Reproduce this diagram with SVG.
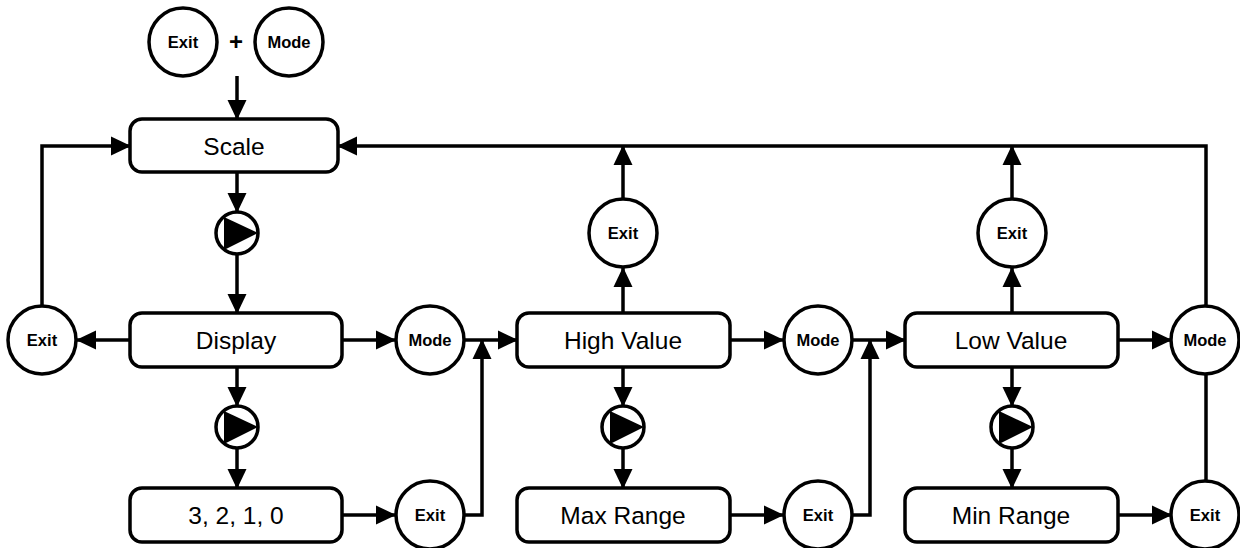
<svg xmlns="http://www.w3.org/2000/svg" width="1240" height="548" viewBox="0 0 1240 548">
<defs>
<marker id="ah" markerUnits="userSpaceOnUse" markerWidth="20" markerHeight="19" refX="19" refY="9.5" orient="auto" overflow="visible">
<path d="M0,0 L20,9.5 L0,19 z" fill="#000"/>
</marker>
<style>
.box{fill:#fff;stroke:#000;stroke-width:3.5}
.circ{fill:#fff;stroke:#000;stroke-width:3.5}
.bt{font-family:"Liberation Sans",Arial,sans-serif;font-size:24.5px;text-anchor:middle;fill:#000}
.ct{font-family:"Liberation Sans",Arial,sans-serif;font-size:16.5px;font-weight:bold;text-anchor:middle;fill:#000}
.ln{fill:none;stroke:#000;stroke-width:3.5}
.ar{fill:none;stroke:#000;stroke-width:3.5;marker-end:url(#ah)}
.tri{fill:#000}
</style>
</defs>
<rect width="1240" height="548" fill="#fff"/>
<g id="connectors">
<path class="ar" d="M237,76 V119"/>
<path class="ar" d="M237,172 V212"/>
<path class="ar" d="M237,254 V313"/>
<path class="ar" d="M130,340 H77"/>
<path class="ar" d="M42,306 V146 H130"/>
<path class="ar" d="M342,340 H395"/>
<path class="ar" d="M465,340 H517"/>
<path class="ar" d="M237,367 V406"/>
<path class="ar" d="M237,448 V488"/>
<path class="ar" d="M342,515 H395"/>
<path class="ar" d="M465,515 H482 V340"/>
<path class="ar" d="M623,313 V268"/>
<path class="ar" d="M623,198 V146"/>
<path class="ar" d="M730,340 H783"/>
<path class="ar" d="M853,340 H905"/>
<path class="ar" d="M623,367 V406"/>
<path class="ar" d="M623,448 V488"/>
<path class="ar" d="M730,515 H783"/>
<path class="ar" d="M853,515 H870 V340"/>
<path class="ar" d="M1012,313 V268"/>
<path class="ar" d="M1012,198 V146"/>
<path class="ar" d="M1118,340 H1171"/>
<path class="ar" d="M1206,305 V146 H338"/>
<path class="ar" d="M1012,367 V406"/>
<path class="ar" d="M1012,448 V488"/>
<path class="ar" d="M1118,515 H1171"/>
<path class="ln" d="M1206,480 V375"/>
</g>
<g id="start-exit"><circle class="circ" cx="183" cy="42" r="34"/><text class="ct" x="183" y="48">Exit</text></g>
<g id="start-plus"><text class="ct" x="236" y="50" style="font-size:24px">+</text></g>
<g id="start-mode"><circle class="circ" cx="289" cy="42" r="34"/><text class="ct" x="289" y="48">Mode</text></g>
<g id="scale"><rect class="box" x="130" y="119" width="208" height="53" rx="12"/><text class="bt" x="234" y="155">Scale</text></g>
<g id="play1"><circle class="circ" cx="237" cy="233" r="21"/><path class="tri" d="M224,217 L258,233 L224,250 z"/></g>
<g id="display"><rect class="box" x="130" y="313" width="212" height="54" rx="12"/><text class="bt" x="236" y="349">Display</text></g>
<g id="exit-left"><circle class="circ" cx="42" cy="340" r="34"/><text class="ct" x="42" y="346">Exit</text></g>
<g id="mode1"><circle class="circ" cx="430" cy="340" r="34"/><text class="ct" x="430" y="346">Mode</text></g>
<g id="play2"><circle class="circ" cx="237" cy="427" r="21"/><path class="tri" d="M224,411 L258,427 L224,444 z"/></g>
<g id="digits"><rect class="box" x="130" y="488" width="212" height="54" rx="12"/><text class="bt" x="236" y="524">3, 2, 1, 0</text></g>
<g id="exit2"><circle class="circ" cx="430" cy="515" r="34"/><text class="ct" x="430" y="521">Exit</text></g>
<g id="high-value"><rect class="box" x="517" y="313" width="213" height="54" rx="12"/><text class="bt" x="623" y="349">High Value</text></g>
<g id="exit3"><circle class="circ" cx="623" cy="233" r="34"/><text class="ct" x="623" y="239">Exit</text></g>
<g id="mode2"><circle class="circ" cx="818" cy="340" r="34"/><text class="ct" x="818" y="346">Mode</text></g>
<g id="play3"><circle class="circ" cx="623" cy="427" r="21"/><path class="tri" d="M610,411 L644,427 L610,444 z"/></g>
<g id="max-range"><rect class="box" x="517" y="488" width="213" height="54" rx="12"/><text class="bt" x="623" y="524">Max Range</text></g>
<g id="exit4"><circle class="circ" cx="818" cy="515" r="34"/><text class="ct" x="818" y="521">Exit</text></g>
<g id="low-value"><rect class="box" x="905" y="313" width="213" height="54" rx="12"/><text class="bt" x="1011" y="349">Low Value</text></g>
<g id="exit5"><circle class="circ" cx="1012" cy="233" r="34"/><text class="ct" x="1012" y="239">Exit</text></g>
<g id="mode3"><circle class="circ" cx="1205" cy="340" r="34"/><text class="ct" x="1205" y="346">Mode</text></g>
<g id="play4"><circle class="circ" cx="1012" cy="427" r="21"/><path class="tri" d="M999,411 L1033,427 L999,444 z"/></g>
<g id="min-range"><rect class="box" x="905" y="488" width="213" height="54" rx="12"/><text class="bt" x="1011" y="524">Min Range</text></g>
<g id="exit6"><circle class="circ" cx="1205" cy="515" r="34"/><text class="ct" x="1205" y="521">Exit</text></g>
</svg>
